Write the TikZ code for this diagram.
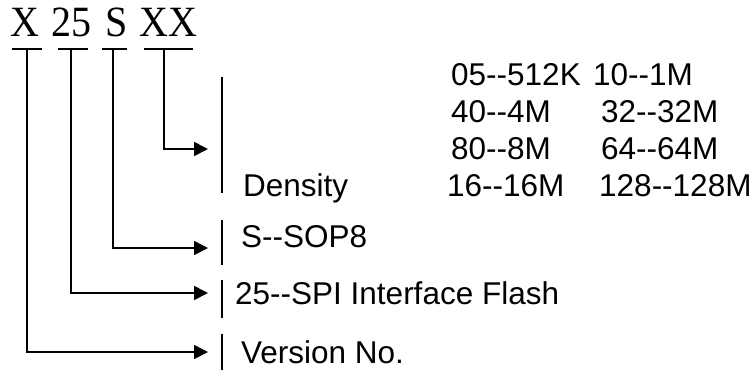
\documentclass[tikz,border=0pt]{standalone}
\usepackage{fontspec}
\setmainfont{Liberation Sans}[Ligatures=TeXOff]
\newfontfamily\codefont{Liberation Serif}
\usetikzlibrary{arrows.meta}

\begin{document}
\begin{tikzpicture}[x=1pt, y=-1pt,
	code/.style={font=\codefont\fontsize{40}{40}\selectfont, anchor=base west, inner sep=0pt},
	lbl/.style={font=\fontsize{31.5}{31.5}\selectfont, anchor=base west, inner sep=0pt},
	bar/.style={line width=1.6pt},
	pointer/.style={line width=1.6pt, -{Triangle[length=14pt, width=14pt]}}]
	
	\useasboundingbox (0,0) rectangle (754,370);
	
	\node[code] (cX) at (10,36) {\scalebox{1}[1.08]{X}};
	\node[code] (c25) at (51,36) {\scalebox{1}[1.08]{25}};
	\node[code] (cS) at (105,36) {\scalebox{1}[1.08]{S}};
	\node[code] (cXX) at (139,36) {\scalebox{1}[1.08]{XX}};
	
	\draw[bar] (12,49) -- (42,49);
	\draw[bar] (58,49) -- (88,49);
	\draw[bar] (102,49) -- (127,49);
	\draw[bar] (144,49) -- (193,49);
	
	\coordinate (uX) at (27,49);
	\coordinate (u25) at (71,49);
	\coordinate (uS) at (113,49);
	\coordinate (uXX) at (164,49);
	
	\coordinate (aXX) at (208,149);
	\coordinate (aS) at (208,248);
	\coordinate (a25) at (208,293);
	\coordinate (aX) at (208,352);
	
	\draw[pointer] (uXX) |- (aXX);
	\draw[pointer] (uS) |- (aS);
	\draw[pointer] (u25) |- (a25);
	\draw[pointer] (uX) |- (aX);
	
	\draw[bar] (222,77) -- (222,193);
	\draw[bar] (222,220) -- (222,265);
	\draw[bar] (222,280) -- (222,318);
	\draw[bar] (222,334) -- (222,370);
	
	\node[lbl] (density) at (243,196) {Density};
	\node[lbl] (sop) at (241,247) {S--SOP8};
	\node[lbl] (spi) at (235,304) {25--SPI Interface Flash};
	\node[lbl] (version) at (241,363) {Version No.};
	
	\node[lbl] (d05) at (451,85) {05--512K};
	\node[lbl] (d10) at (593,85) {10--1M};
	\node[lbl] (d40) at (451,122) {40--4M};
	\node[lbl] (d32) at (601,122) {32--32M};
	\node[lbl] (d80) at (451,159) {80--8M};
	\node[lbl] (d64) at (601,159) {64--64M};
	\node[lbl] (d16) at (447,196) {16--16M};
	\node[lbl] (d128) at (599,196) {128--128M};
	
\end{tikzpicture}
\end{document}
